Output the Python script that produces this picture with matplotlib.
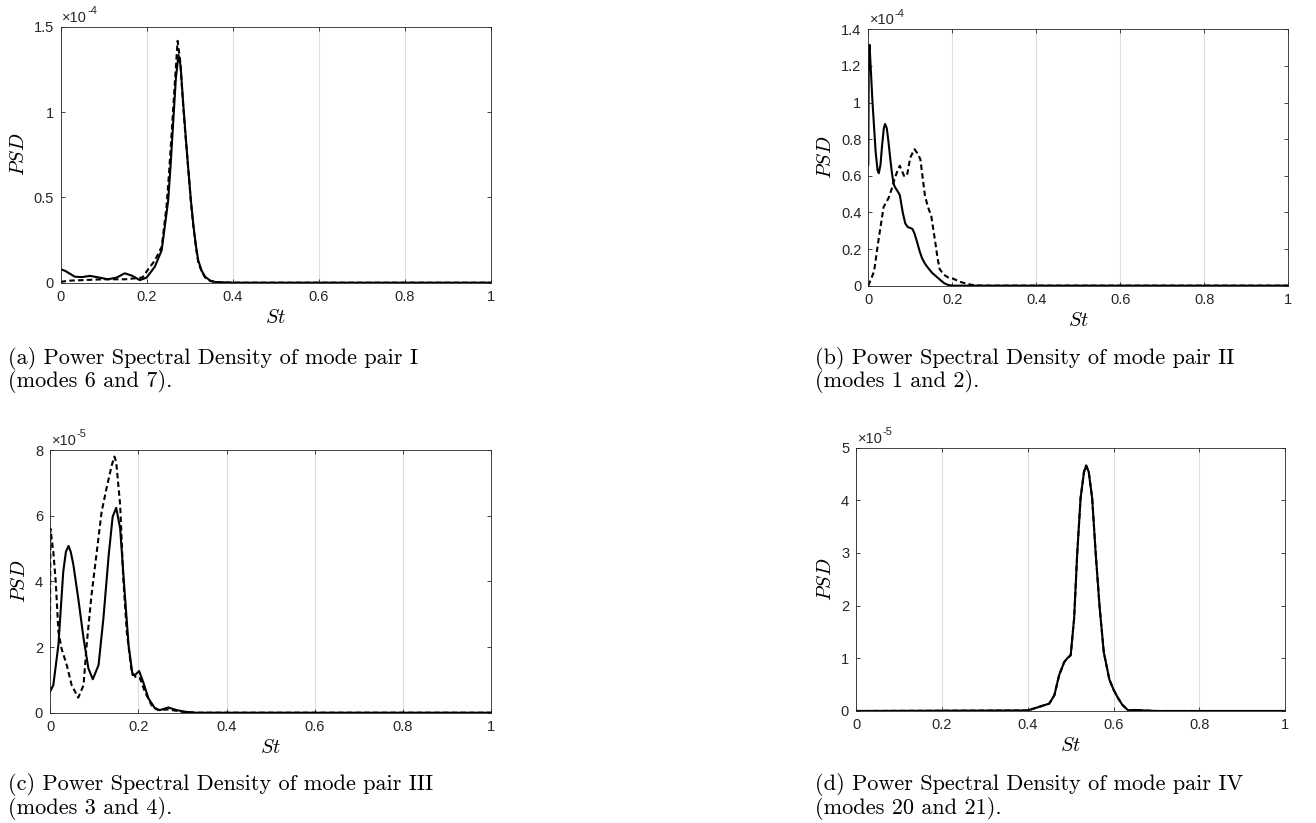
import matplotlib
matplotlib.use("Agg")
import matplotlib.pyplot as plt

plt.rcParams['mathtext.fontset'] = 'cm'
plt.rcParams['font.family'] = ['Liberation Sans', 'DejaVu Sans']

# (a) mode pair I, values in units of 1e-4
st_a1 = [0, 0.01, 0.033, 0.05, 0.068, 0.09, 0.11, 0.13, 0.149, 0.167, 0.184, 0.2, 0.219, 0.235, 0.25,
         0.256, 0.262, 0.268, 0.274, 0.279, 0.285, 0.291, 0.297, 0.303, 0.309, 0.315, 0.32, 0.328,
         0.336, 0.348, 0.36, 0.4, 1.0]
psd_a1 = [0.079, 0.07, 0.035, 0.033, 0.04, 0.03, 0.02, 0.03, 0.055, 0.04, 0.015, 0.03, 0.094, 0.19, 0.48,
          0.70, 0.95, 1.2, 1.334, 1.27, 1.05, 0.85, 0.66, 0.48, 0.33, 0.21, 0.13, 0.07,
          0.035, 0.012, 0.004, 0.0, 0.0]
st_a2 = [0, 0.02, 0.05, 0.1, 0.15, 0.19, 0.204, 0.219, 0.235, 0.246, 0.252, 0.258, 0.265, 0.272, 0.278,
         0.284, 0.29, 0.297, 0.303, 0.309, 0.315, 0.32, 0.328, 0.336, 0.348, 0.36, 0.4, 1.0]
psd_a2 = [0.005, 0.012, 0.015, 0.02, 0.02, 0.03, 0.08, 0.13, 0.21, 0.44, 0.64, 0.87, 1.15, 1.417, 1.30,
          1.07, 0.87, 0.66, 0.47, 0.32, 0.2, 0.12, 0.065, 0.03, 0.01, 0.003, 0.0, 0.0]

# (b) mode pair II, units of 1e-4
st_b1 = [0, 0.001, 0.003, 0.0099, 0.0175, 0.022, 0.025, 0.029, 0.033, 0.037, 0.040, 0.044, 0.048, 0.052,
         0.056, 0.060, 0.063, 0.07, 0.075, 0.082, 0.088, 0.094, 0.1, 0.105, 0.11, 0.116, 0.122, 0.128,
         0.135, 0.143, 0.152, 0.162, 0.172, 0.181, 0.19, 0.2, 1.0]
psd_b1 = [0.66, 1.2, 1.315, 1.005, 0.73, 0.63, 0.614, 0.66, 0.77, 0.86, 0.883, 0.86, 0.787, 0.70,
          0.62, 0.56, 0.54, 0.515, 0.495, 0.40, 0.34, 0.32, 0.315, 0.31, 0.285, 0.24, 0.19, 0.15,
          0.12, 0.095, 0.07, 0.05, 0.03, 0.013, 0.004, 0.0, 0.0]
st_b2 = [0, 0.0137, 0.025, 0.0365, 0.048, 0.056, 0.063, 0.07, 0.075, 0.085, 0.092, 0.1, 0.11, 0.118,
         0.124, 0.13, 0.135, 0.142, 0.15, 0.158, 0.165, 0.17, 0.18, 0.19, 0.2, 0.21, 0.22, 0.235,
         0.25, 0.27, 1.0]
psd_b2 = [0.0, 0.077, 0.26, 0.43, 0.477, 0.53, 0.587, 0.63, 0.655, 0.60, 0.60, 0.70, 0.745, 0.72,
          0.69, 0.58, 0.49, 0.43, 0.38, 0.26, 0.15, 0.09, 0.06, 0.045, 0.04, 0.03, 0.02, 0.01,
          0.003, 0.0, 0.0]

# (c) mode pair III, units of 1e-5
st_c1 = [0, 0.0075, 0.019, 0.03, 0.036, 0.042, 0.047, 0.053, 0.064, 0.076, 0.087, 0.097, 0.11, 0.121,
         0.133, 0.142, 0.15, 0.159, 0.168, 0.178, 0.187, 0.193, 0.202, 0.211, 0.223, 0.238, 0.249,
         0.268, 0.287, 0.306, 0.33, 1.0]
psd_c1 = [0.64, 0.84, 2.06, 4.29, 4.9, 5.08, 4.9, 4.5, 3.48, 2.27, 1.35, 1.02, 1.45, 2.87,
          4.8, 5.97, 6.24, 5.61, 3.89, 2.06, 1.15, 1.15, 1.27, 0.94, 0.44, 0.13, 0.08,
          0.16, 0.08, 0.03, 0.0, 0.0]
st_c2 = [0, 0.001, 0.0075, 0.013, 0.019, 0.026, 0.038, 0.049, 0.064, 0.076, 0.083, 0.094, 0.106, 0.117,
         0.128, 0.14, 0.146, 0.15, 0.159, 0.166, 0.174, 0.185, 0.196, 0.204, 0.215, 0.23, 0.245,
         0.268, 0.298, 0.33, 1.0]
psd_c2 = [2.82, 5.6, 4.9, 3.99, 2.47, 1.96, 1.45, 0.84, 0.46, 0.84, 2.06, 3.58, 4.9, 6.12,
          6.83, 7.54, 7.8, 7.64, 6.32, 4.09, 2.47, 1.25, 1.05, 1.05, 0.64, 0.23, 0.08,
          0.1, 0.03, 0.0, 0.0]

# (d) mode pair IV, units of 1e-5 (both modes lie on top of each other)
st_d = [0, 0.4, 0.427, 0.45, 0.462, 0.473, 0.485, 0.492, 0.5, 0.508, 0.515, 0.523, 0.531, 0.536,
        0.542, 0.55, 0.558, 0.567, 0.577, 0.59, 0.6, 0.61, 0.62, 0.634, 0.65, 0.67, 0.7, 1.0]
psd_d1 = [0.0, 0.01, 0.08, 0.14, 0.3, 0.68, 0.93, 1.0, 1.06, 1.76, 2.96, 4.04, 4.54, 4.66,
          4.54, 4.04, 3.02, 2.01, 1.12, 0.6, 0.4, 0.25, 0.12, 0.01, 0.02, 0.01, 0.0, 0.0]
psd_d2 = psd_d1

xticks = [0, 0.2, 0.4, 0.6, 0.8, 1]

fig = plt.figure(figsize=(13.16, 8.23), dpi=100)


def panel(rect, curves, yticks, expo, caption_x, caption_y, caption):
    ax = fig.add_axes(rect)
    for x, y, ls in curves:
        line, = ax.plot(x, y, color='black', linestyle=ls, linewidth=1.5)
        if ls == '--':
            line.set_dashes((2.6, 1.6))
    ax.set_xlim(0, 1)
    ax.set_ylim(yticks[0], yticks[-1])
    ax.set_xticks(xticks)
    ax.set_xticklabels(['%g' % v for v in xticks])
    ax.set_yticks(yticks)
    ax.set_yticklabels(['%g' % v for v in yticks])
    ax.grid(axis='x', color='#dedede', linewidth=0.8)
    ax.tick_params(direction='in', top=True, right=True, length=3, width=0.6,
                   labelsize=10.5, colors='#262626', pad=5)
    for s in ax.spines.values():
        s.set_color('#262626')
        s.set_linewidth(0.6)
    ax.set_xlabel(r'$St$', fontsize=14.5, labelpad=3)
    ax.set_ylabel(r'$PSD$', fontsize=14.5)
    # MATLAB style exponent above the axis
    t = ax.text(0.004, 1.008, '\u00d710', transform=ax.transAxes, ha='left', va='bottom',
                fontsize=10.5, color='#262626')
    ax.annotate(expo, xy=(1.0, 0.62), xycoords=t, ha='left', va='bottom',
                fontsize=8, color='#262626')
    fig.text(caption_x, caption_y[0], caption[0], family='cmr10', fontsize=16, va='center')
    fig.text(caption_x, caption_y[1], caption[1], family='cmr10', fontsize=16, va='center')
    return ax


panel([0.0461, 0.6565, 0.3267, 0.3111],
      [(st_a1, psd_a1, '-'), (st_a2, psd_a2, '--')],
      [0, 0.5, 1, 1.5], '-4', 0.006, (1 - 358 / 823, 1 - 381 / 823),
      ['(a) Power Spectral Density of mode pair I', '(modes 6 and 7).'])

panel([0.6598, 0.6529, 0.3191, 0.3115],
      [(st_b1, psd_b1, '-'), (st_b2, psd_b2, '--')],
      [0, 0.2, 0.4, 0.6, 0.8, 1, 1.2, 1.4], '-4', 0.619, (1 - 358 / 823, 1 - 381 / 823),
      ['(b) Power Spectral Density of mode pair II', '(modes 1 and 2).'])

panel([0.038, 0.134, 0.3353, 0.3192],
      [(st_c1, psd_c1, '-'), (st_c2, psd_c2, '--')],
      [0, 2, 4, 6, 8], '-5', 0.006, (1 - 785 / 823, 1 - 808 / 823),
      ['(c) Power Spectral Density of mode pair III', '(modes 3 and 4).'])

panel([0.6505, 0.1361, 0.3262, 0.32],
      [(st_d, psd_d1, '-'), (st_d, psd_d2, '--')],
      [0, 1, 2, 3, 4, 5], '-5', 0.619, (1 - 785 / 823, 1 - 808 / 823),
      ['(d) Power Spectral Density of mode pair IV', '(modes 20 and 21).'])

plt.savefig('out.png', dpi=100)
